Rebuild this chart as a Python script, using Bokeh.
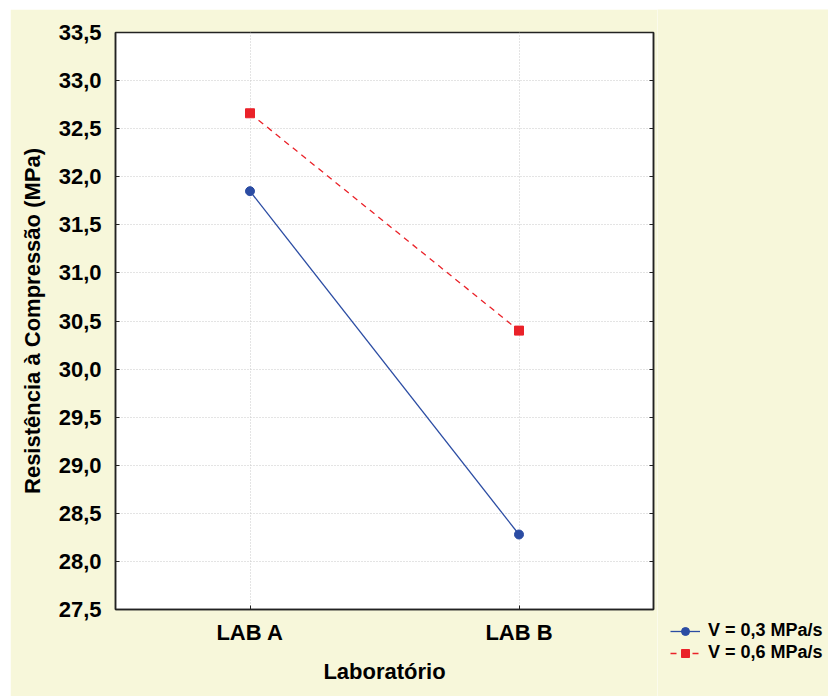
from bokeh.plotting import figure
from bokeh.layouts import row, column
from bokeh.models import (FactorRange, Range1d, SingleIntervalTicker, LinearAxis,
                          Legend, LegendItem, CustomJSTickFormatter)
from bokeh.embed import file_html
from bokeh.resources import INLINE

labs = ["LAB A", "LAB B"]
v03 = [31.85, 28.28]
v06 = [32.66, 30.40]
series_names = ["V = 0,3 MPa/s", "V = 0,6 MPa/s"]

FONT = "Liberation Sans"
BG = "#f7f7da"
BLUE = "#2b4ca3"
RED = "#ea2229"

p = figure(width=647, height=687, x_range=FactorRange(factors=labs, range_padding=0),
           y_range=Range1d(27.5, 33.5), output_backend="svg", toolbar_location=None,
           min_border_left=105, min_border_right=4, min_border_top=23, min_border_bottom=87)
p.margin = (9, 0, 0, 10)
p.border_fill_color = BG
p.background_fill_color = "white"
p.outline_line_color = "#222222"
p.outline_line_width = 1.5

line_style1 = dict(line_color=BLUE, line_width=1.3)
line_style2 = dict(line_color=RED, line_width=1.3, line_dash="6 5")
mk_style1 = dict(marker="circle", size=9, fill_color=BLUE, line_color=BLUE)
mk_style2 = dict(marker="square", size=9, fill_color=RED, line_color=RED)

p.line(labs, v03, **line_style1)
p.scatter(labs, v03, **mk_style1)
p.line(labs, v06, **line_style2)
p.scatter(labs, v06, **mk_style2)

for ax in (p.xaxis[0], p.yaxis[0]):
    ax.axis_line_color = "#222222"
    ax.axis_line_width = 1.5
    ax.major_tick_in = 4
    ax.major_tick_out = 0
    ax.major_tick_line_color = "#222222"
    ax.minor_tick_line_color = None
    ax.major_label_text_font = FONT
    ax.major_label_text_font_style = "bold"
    ax.major_label_text_font_size = "22px"
    ax.major_label_text_color = "black"
    ax.axis_label_text_font = FONT
    ax.axis_label_text_font_style = "bold"
    ax.axis_label_text_font_size = "22px"
    ax.axis_label_text_color = "black"

p.yaxis.ticker = SingleIntervalTicker(interval=0.5)
p.yaxis.formatter = CustomJSTickFormatter(code="return tick.toFixed(1).replace('.', ',');")
p.yaxis.major_label_standoff = 10
p.yaxis.axis_label = "Resistência à Compressão (MPa)"
p.yaxis.axis_label_standoff = 11
p.xaxis.major_label_standoff = 10
p.xaxis.axis_label = "Laboratório"
p.xaxis.axis_label_standoff = 11

ra = LinearAxis(ticker=SingleIntervalTicker(interval=0.5), major_tick_in=4, major_tick_out=0,
                major_label_text_font_size="0px", major_label_standoff=0,
                minor_tick_line_color=None,
                axis_line_color="#222222", axis_line_width=1.5, major_tick_line_color="#222222")
p.add_layout(ra, "right")

p.xgrid.grid_line_color = "#c8c8c8"
p.xgrid.grid_line_dash = "1 2"
p.ygrid.grid_line_color = "#c8c8c8"
p.ygrid.grid_line_dash = "1 2"

# legend panel (separate figure so the legend can sit outside the plot frame)
q = figure(width=171, height=687, output_backend="svg", toolbar_location=None,
           x_axis_location=None, y_axis_location=None,
           min_border_left=0, min_border_right=0, min_border_top=0, min_border_bottom=0,
           x_range=FactorRange(factors=labs), y_range=Range1d(100, 101))
q.margin = (9, 0, 0, 0)
q.border_fill_color = BG
q.background_fill_color = BG
q.outline_line_color = None
q.grid.visible = False
r1 = q.line(labs, v03, **line_style1)
s1 = q.scatter(labs, v03, **mk_style1)
r2 = q.line(labs, v06, **line_style2)
s2 = q.scatter(labs, v06, **mk_style2)

legend = Legend(items=[LegendItem(label=series_names[0], renderers=[r1, s1]),
                       LegendItem(label=series_names[1], renderers=[r2, s2])],
                location=(13, 33), orientation="vertical",
                background_fill_alpha=0, border_line_alpha=0,
                padding=0, margin=0, spacing=1, glyph_width=30, glyph_height=20,
                label_height=20, label_standoff=8,
                label_text_font=FONT, label_text_font_style="bold",
                label_text_font_size="18px", label_text_color="black")
q.add_layout(legend, "center")

layout = row(p, column(q, spacing=0), spacing=0)
open("out.html", "w").write(file_html(layout, INLINE))
